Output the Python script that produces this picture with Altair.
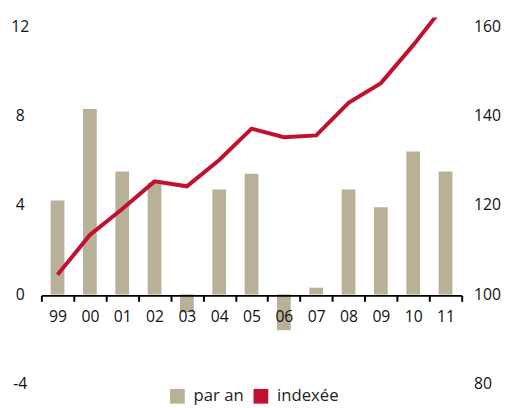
import altair as alt
import pandas as pd

years = ["99", "00", "01", "02", "03", "04", "05", "06", "07", "08", "09", "10", "11"]
par_an = [4.2, 8.3, 5.5, 5.0, -0.8, 4.7, 5.4, -1.6, 0.3, 4.7, 3.9, 6.4, 5.5]
indexee = [104.4, 113.3, 119.1, 125.3, 124.2, 130.1, 137.1, 135.2, 135.6, 142.9, 147.3, 155.8, 165.0]
series_names = ["par an", "indexée"]
left_ticks = [-4, 0, 4, 8, 12]
right_ticks = [80, 100, 120, 140, 160]

TAN = "#b8b097"
RED = "#c11030"
FONT = "Open Sans"

bars_df = pd.DataFrame({"annee": years, "valeur": par_an, "serie": series_names[0]})
line_df = pd.DataFrame({"annee": years, "indice": indexee})

x_enc = alt.X(
    "annee:N",
    sort=years,
    scale=alt.Scale(paddingInner=0, paddingOuter=0),
    axis=alt.Axis(
        title=None, labelAngle=0, offset=-90, zindex=1,
        domainColor="black", domainWidth=2,
        tickColor="black", tickWidth=2, tickSize=6, tickBand="extent",
        labelFontSize=16, labelColor="#111", labelPadding=8, labelFont=FONT,
    ),
)

bars = alt.Chart(bars_df).mark_bar(size=14).encode(
    x=x_enc,
    y=alt.Y(
        "valeur:Q",
        scale=alt.Scale(domain=[-4, 12.4], nice=False, zero=False),
        axis=alt.Axis(
            title=None, values=left_ticks, domain=False, ticks=False, tickSize=0,
            grid=False, labelAlign="center", labelPadding=22, labelFontSize=16,
            labelColor="#111", labelFont=FONT, labelBaseline="middle",
            labelExpr="replace(datum.label, '−', '-')",
        ),
    ),
    color=alt.Color(
        "serie:N",
        scale=alt.Scale(domain=series_names, range=[TAN, RED]),
        legend=alt.Legend(
            title=None, orient="none", legendX=130, legendY=377,
            direction="horizontal", symbolType="square", symbolSize=225,
            symbolStrokeWidth=0, symbolOpacity=1, labelFontSize=17,
            labelFont=FONT, labelColor="#222", padding=0, columnPadding=8,
            labelOffset=8,
        ),
    ),
)

line = alt.Chart(line_df).mark_line(strokeWidth=4, clip=True, color=RED).encode(
    x=alt.X("annee:N", sort=years),
    y=alt.Y(
        "indice:Q",
        scale=alt.Scale(domain=[80, 162], nice=False, zero=False),
        axis=alt.Axis(
            title=None, orient="right", values=right_ticks, domain=False,
            ticks=False, tickSize=0, grid=False, labelAlign="left",
            labelPadding=12, labelFontSize=16, labelColor="#111",
            labelFont=FONT, labelBaseline="middle",
        ),
    ),
)

chart = (
    alt.layer(bars, line)
    .resolve_scale(y="independent")
    .properties(
        width=428, height=373,
        autosize=alt.AutoSizeParams(type="none"),
        padding={"left": 34, "top": 6, "right": 40, "bottom": 18},
    )
    .configure_view(stroke=None)
)

chart.save("out.html", embed_options={"renderer": "svg", "actions": False})
